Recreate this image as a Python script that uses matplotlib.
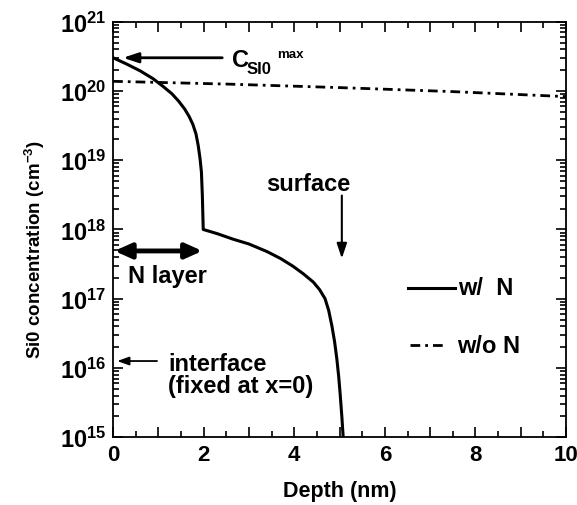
import math
import matplotlib
matplotlib.use("Agg")
import matplotlib.pyplot as plt
from matplotlib.ticker import MultipleLocator, LogLocator, FixedLocator, FuncFormatter

plt.rcParams['font.family'] = ['Liberation Sans', 'DejaVu Sans']
plt.rcParams['font.weight'] = 'bold'
plt.rcParams['mathtext.fontset'] = 'custom'
plt.rcParams['mathtext.rm'] = 'Liberation Sans:bold'
plt.rcParams['mathtext.bf'] = 'Liberation Sans:bold'
plt.rcParams['mathtext.default'] = 'bf'

# data
depth_wN = [0.0, 0.3, 0.6, 0.88, 1.1, 1.3, 1.45, 1.58, 1.68, 1.76, 1.83, 1.88,
            1.92, 1.95, 1.97, 1.99,
            2.3, 2.65, 3.0, 3.4, 3.7, 3.97, 4.2, 4.42, 4.56, 4.68, 4.76, 4.83,
            4.89, 4.94, 4.98, 5.01, 5.05, 5.08]
conc_wN = [3.02e20, 2.45e20, 1.95e20, 1.51e20, 1.17e20, 9.1e19, 7.1e19,
           5.5e19, 4.27e19, 3.31e19, 2.40e19, 1.62e19,
           1.05e19, 6.76e18, 3.16e18, 1.0e18,
           8.7e17, 7.24e17, 6.17e17, 4.79e17, 3.80e17, 2.95e17, 2.29e17,
           1.74e17, 1.35e17, 1.0e17, 6.76e16, 4.07e16,
           2.40e16, 1.35e16, 7.59e15, 4.47e15, 2.0e15, 1.0e15]
depth_woN = [0.0, 2.5, 5.0, 7.5, 10.0]
conc_woN = [1.38e20, 1.26e20, 1.12e20, 9.8e19, 8.3e19]
x_ticks = [0, 2, 4, 6, 8, 10]
y_ticks = [1e15, 1e16, 1e17, 1e18, 1e19, 1e20, 1e21]

fig = plt.figure(figsize=(5.77, 5.06), dpi=100)
ax = fig.add_axes([0.196, 0.134, 0.785, 0.821])

ax.plot(depth_wN, conc_wN, color='black', lw=2.2, solid_joinstyle='round')
ax.plot(depth_woN, conc_woN, color='black', lw=2.0, dashes=(3.5, 1.8, 1, 1.8))

ax.set_yscale('log')
ax.set_xlim(0, 10)
ax.set_ylim(1e15, 1e21)
ax.xaxis.set_major_locator(MultipleLocator(1))
ax.xaxis.set_minor_locator(MultipleLocator(0.5))
ax.xaxis.set_major_formatter(FuncFormatter(lambda v, p: f"{int(round(v))}" if int(round(v)) in x_ticks else ""))
ax.yaxis.set_major_locator(FixedLocator(y_ticks))
ax.yaxis.set_minor_locator(LogLocator(base=10, subs=range(2, 10), numticks=20))
ax.yaxis.set_major_formatter(FuncFormatter(lambda v, p: r"$10^{%d}$" % round(math.log10(v))))
ax.tick_params(which='both', direction='in', top=True, right=True, width=1.2)
ax.tick_params(which='major', length=7, pad=5)
ax.tick_params(axis='y', which='major', labelsize=17)
ax.tick_params(axis='x', which='major', labelsize=16)
ax.tick_params(which='minor', length=4)
for s in ax.spines.values():
    s.set_linewidth(1.3)

ax.set_xlabel('Depth (nm)', fontsize=15.5, fontweight='bold', labelpad=11)
ax.set_ylabel(r'Si0 concentration (cm$^{-3}$)', fontsize=13.5, fontweight='bold')
ax.yaxis.set_label_coords(-0.145, 0.453)

# C_SI0^max annotation
ax.annotate('', xy=(0.22, 10**20.48), xytext=(2.41, 10**20.48),
            arrowprops=dict(arrowstyle='-|>,head_length=0.9,head_width=0.3', color='black', lw=2,
                            shrinkA=0, shrinkB=0))
ax.text(2.63, 10**20.45, 'C', fontsize=17, fontweight='bold', va='center', ha='left')
ax.text(2.95, 10**20.32, 'SI0', fontsize=12, fontweight='bold', va='center', ha='left')
ax.text(3.62, 10**20.53, 'max', fontsize=9.5, fontweight='bold', va='center', ha='left')

# surface
ax.text(4.30, 10**18.66, 'surface', fontsize=17, fontweight='bold', va='center', ha='center')
ax.annotate('', xy=(5.05, 10**17.58), xytext=(5.05, 10**18.49),
            arrowprops=dict(arrowstyle='-|>,head_length=0.9,head_width=0.3', color='black', lw=1.5,
                            shrinkA=0, shrinkB=0))

# N layer
ax.annotate('', xy=(0.03, 10**17.69), xytext=(1.97, 10**17.69),
            arrowprops=dict(arrowstyle='<|-|>,head_length=1.0,head_width=0.45', color='black', lw=3.5,
                            shrinkA=0, shrinkB=0))
ax.text(0.33, 10**17.34, 'N layer', fontsize=17, fontweight='bold', va='center', ha='left')

# interface
ax.annotate('', xy=(0.09, 10**16.10), xytext=(0.97, 10**16.10),
            arrowprops=dict(arrowstyle='-|>,head_length=0.7,head_width=0.25', color='black', lw=1.3,
                            shrinkA=0, shrinkB=0))
ax.text(1.21, 10**16.07, 'interface', fontsize=17, fontweight='bold', va='center', ha='left')
ax.text(1.21, 10**15.75, '(fixed at x=0)', fontsize=17, fontweight='bold', va='center', ha='left')

# legend
ax.plot([6.51, 7.55], [10**17.16, 10**17.16], color='black', lw=2.2)
ax.text(7.62, 10**17.16, 'w/  N', fontsize=17, fontweight='bold', va='center', ha='left')
ax.plot([6.56, 7.37], [10**16.33, 10**16.33], color='black', lw=2.0, dashes=(3.5, 1.8, 1, 1.8))
ax.text(7.59, 10**16.33, 'w/o N', fontsize=17, fontweight='bold', va='center', ha='left')

fig.savefig('out.png', dpi=100)
